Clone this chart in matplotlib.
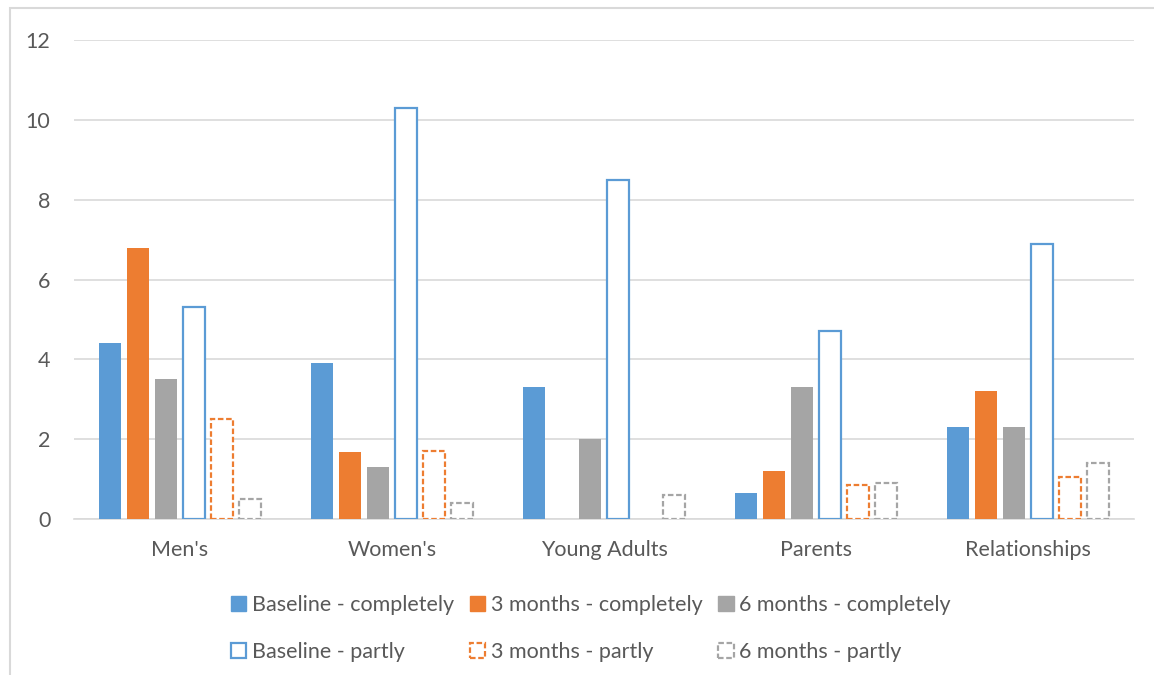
import matplotlib.pyplot as plt
import numpy as np
from matplotlib.patches import Patch, Rectangle

# Categories and series values
groups = ["Men's", "Women's", "Young Adults", "Parents", "Relationships"]
baseline_completely = [4.4, 3.9, 3.3, 0.65, 2.3]
m3_completely = [6.78, 1.68, 0.0, 1.2, 3.2]
m6_completely = [3.5, 1.3, 2.0, 3.3, 2.3]
baseline_partly = [5.3, 10.3, 8.5, 4.7, 6.9]
m3_partly = [2.5, 1.7, 0.0, 0.85, 1.05]
m6_partly = [0.5, 0.4, 0.6, 0.9, 1.4]

blue = '#5B9BD5'
orange = '#ED7D31'
grey = '#A5A5A5'
text_col = '#595959'
grid_col = '#D9D9D9'

plt.rcParams['font.family'] = ['Lato', 'DejaVu Sans']
fs = 15.5

fig = plt.figure(figsize=(11.54, 6.75), dpi=100)
ax = fig.add_axes([74 / 1154, 1 - 519 / 675, 1060 / 1154, 479 / 675])

# outer chart frame (only the left and top edges fall inside the image)
fig.patches.append(Rectangle((10 / 1154, -0.1), 1.2, 1 - 8 / 675 + 0.1,
                             transform=fig.transFigure, fill=False,
                             edgecolor=grid_col, linewidth=1.5, zorder=0))

x = np.arange(len(groups))
step = 0.132
width = 0.104
offsets = (np.arange(6) - 2.5) * step

dash = (0, (2.5, 1.2))
series = [
    (baseline_completely, dict(color=blue, edgecolor='none'), 'Baseline - completely'),
    (m3_completely, dict(color=orange, edgecolor='none'), '3 months - completely'),
    (m6_completely, dict(color=grey, edgecolor='none'), '6 months - completely'),
    (baseline_partly, dict(facecolor='white', edgecolor=blue, linewidth=1.6), 'Baseline - partly'),
    (m3_partly, dict(facecolor='white', edgecolor=orange, linewidth=1.6, linestyle=dash), '3 months - partly'),
    (m6_partly, dict(facecolor='white', edgecolor=grey, linewidth=1.6, linestyle=dash), '6 months - partly'),
]

handles = []
for i, (vals, style, label) in enumerate(series):
    vals = np.array(vals)
    keep = vals > 0  # empty bars are left out
    ax.bar((x + offsets[i])[keep], vals[keep], width=width, zorder=3, **style)
    handles.append(Patch(label=label, **style))

ax.set_xlim(-0.5, len(groups) - 0.5)
ax.set_ylim(0, 12)
ax.set_yticks(range(0, 13, 2))
ax.set_xticks(x)
ax.set_xticklabels(groups)
ax.yaxis.grid(True, color=grid_col, linewidth=1.2, zorder=0)
ax.set_axisbelow(True)
for side in ['top', 'right', 'left']:
    ax.spines[side].set_visible(False)
ax.spines['bottom'].set_color(grid_col)
ax.spines['bottom'].set_linewidth(1.2)
ax.tick_params(axis='both', length=0, labelsize=fs, labelcolor=text_col)
ax.tick_params(axis='x', pad=15)
ax.tick_params(axis='y', pad=17)

# legend: columns filled top to bottom, so pair completely/partly per column
order = [0, 3, 1, 4, 2, 5]
fig.legend([handles[i] for i in order], [handles[i].get_label() for i in order],
           ncol=3, loc='upper center', bbox_to_anchor=(591 / 1154, 1 - 576 / 675),
           frameon=False, fontsize=fs, labelcolor=text_col,
           handlelength=0.7, handleheight=0.7, handletextpad=0.25,
           columnspacing=0.75, labelspacing=1.25)

fig.savefig('out.png', dpi=100)
